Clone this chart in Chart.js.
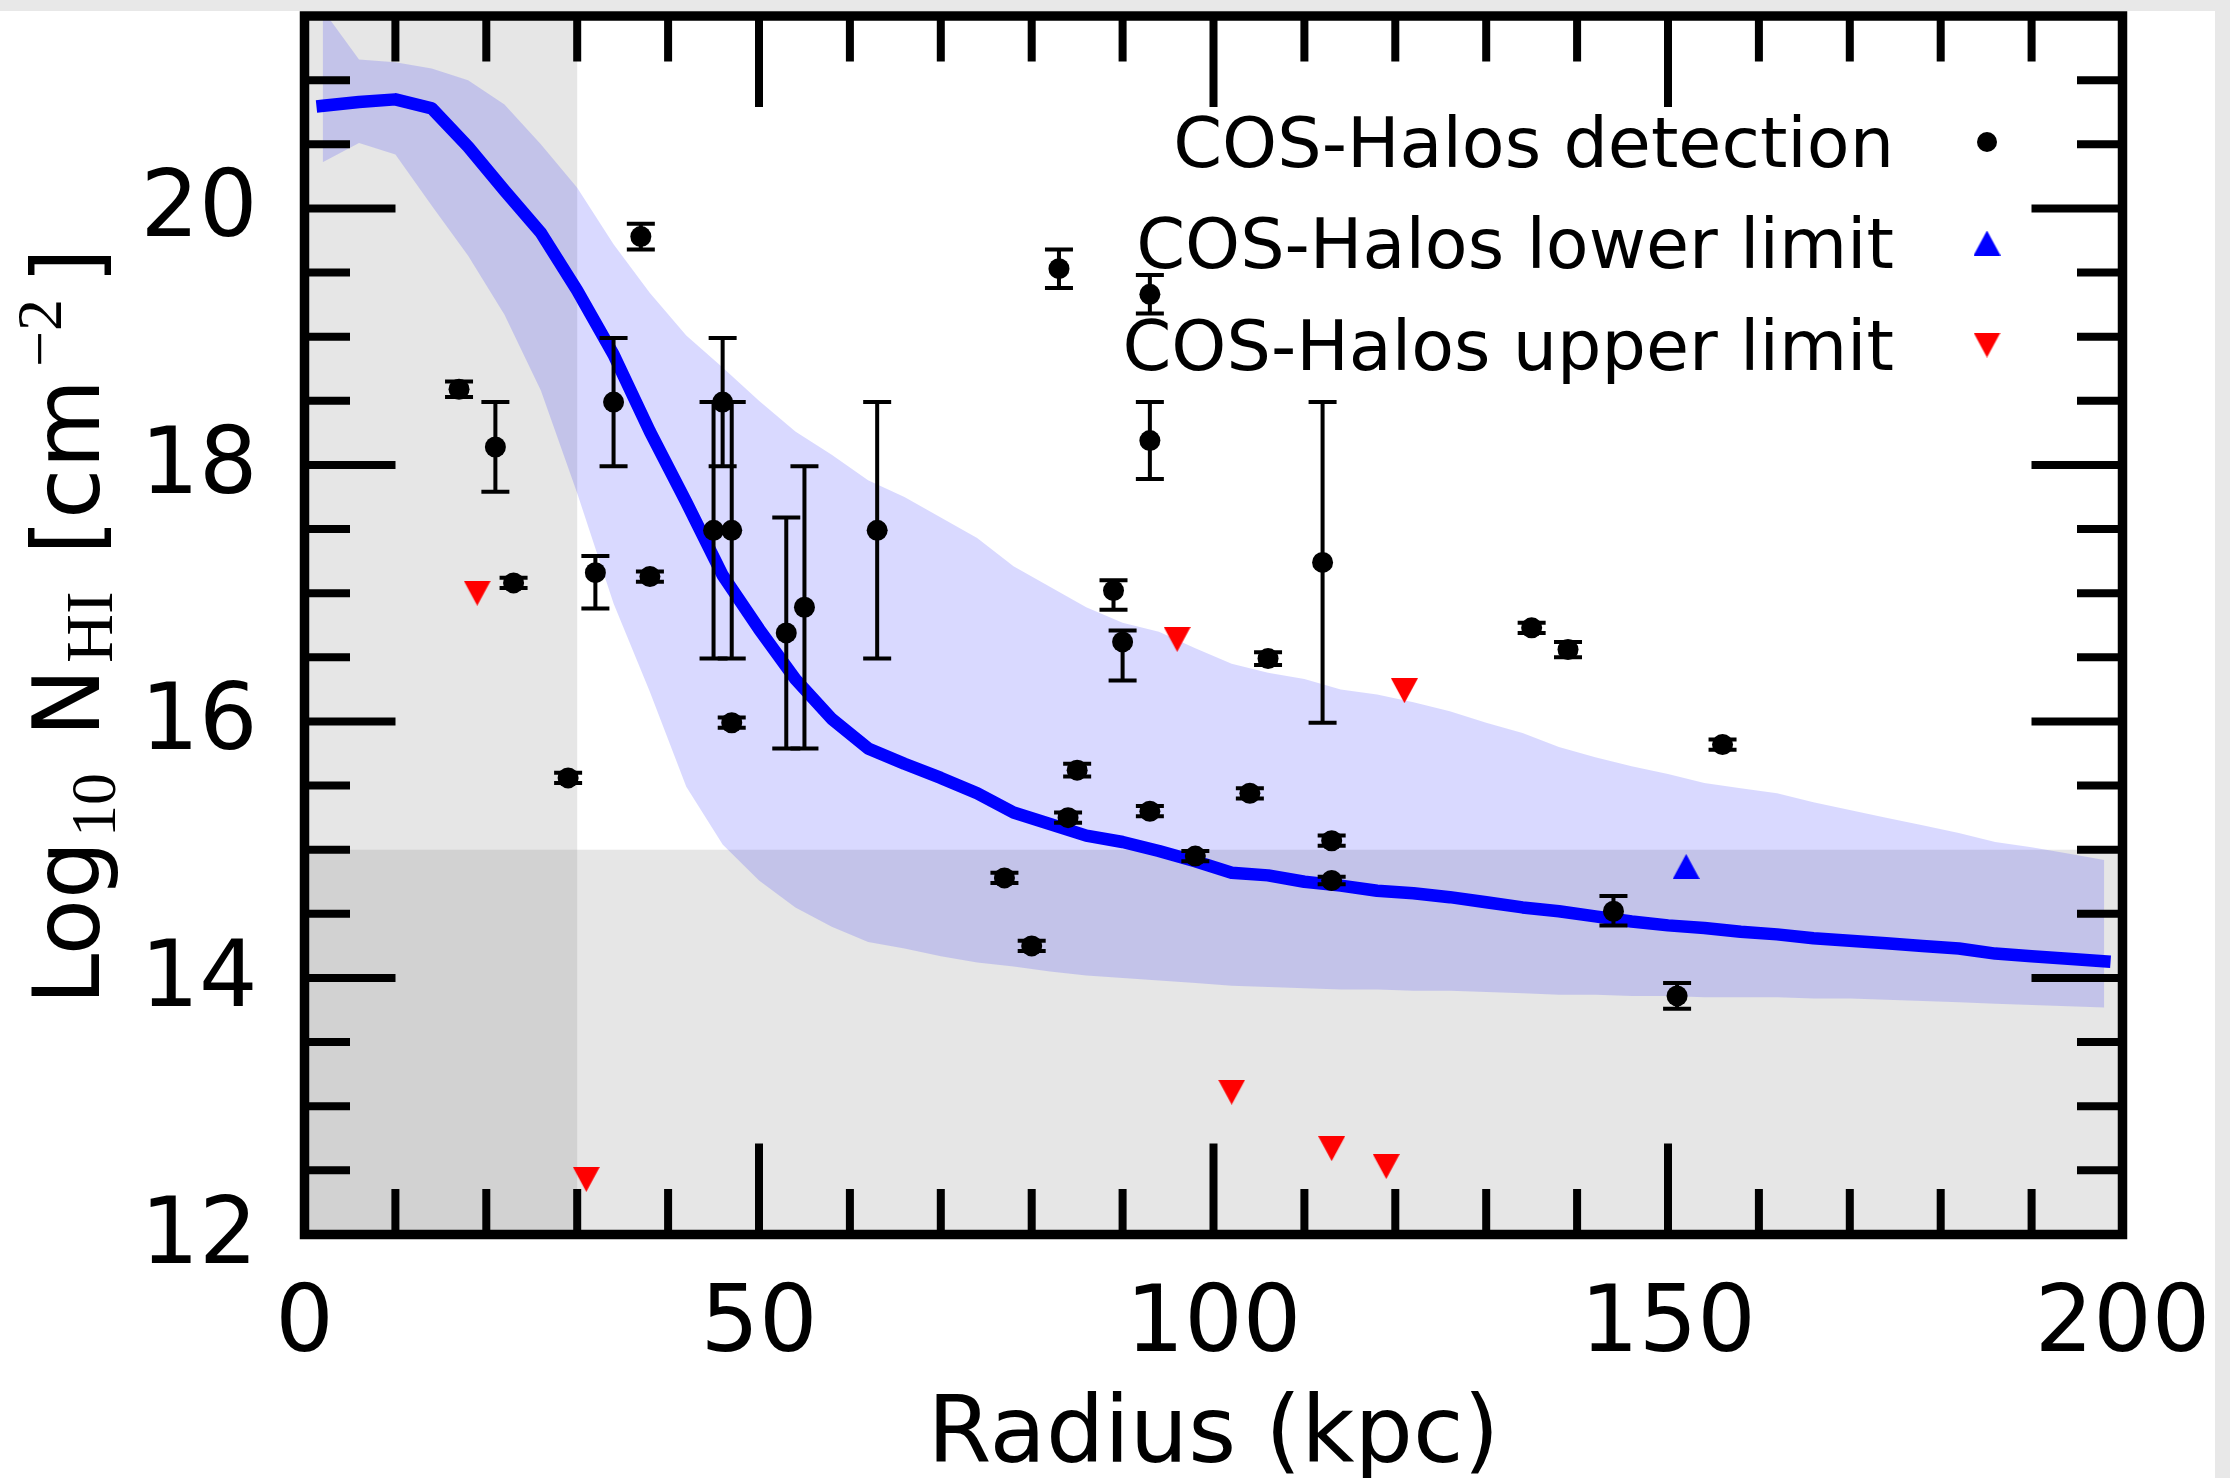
<!DOCTYPE html>
<html>
<head>
<meta charset="utf-8">
<title>H I column density profile</title>
<script src="https://cdn.jsdelivr.net/npm/chart.js@4.4.1/dist/chart.umd.min.js"></script>
<style>
  html, body { margin: 0; padding: 0; background: #e8e8e8; overflow: hidden; }
  #wrap { position: absolute; left: 0; top: 0; width: 2230px; height: 1478px; }
  canvas { display: block; }
</style>
</head>
<body>
<div id="wrap"><canvas id="chart" width="2230" height="1478"></canvas></div>
<script>
// ---- Model profile, sampled on 4 kpc radial bins ----
const radiusBins = [2, 6, 10, 14, 18, 22, 26, 30, 34, 38,
                    42, 46, 50, 54, 58, 62, 66, 70, 74, 78,
                    82, 86, 90, 94, 98, 102, 106, 110, 114, 118,
                    122, 126, 130, 134, 138, 142, 146, 150, 154, 158,
                    162, 166, 170, 174, 178, 182, 186, 190, 194, 198];
const medianLogN = [20.80, 20.83, 20.85, 20.78, 20.48, 20.14, 19.81, 19.36, 18.86, 18.26,
                    17.71, 17.14, 16.72, 16.33, 16.02, 15.79, 15.67, 15.56, 15.44, 15.29,
                    15.20, 15.11, 15.06, 14.99, 14.91, 14.82, 14.80, 14.75, 14.72, 14.68,
                    14.66, 14.63, 14.59, 14.55, 14.52, 14.48, 14.44, 14.41, 14.39, 14.36,
                    14.34, 14.31, 14.29, 14.27, 14.25, 14.23, 14.19, 14.17, 14.15, 14.13];
const upperLogN  = [21.55, 21.16, 21.14, 21.09, 21.00, 20.81, 20.50, 20.16, 19.72, 19.34,
                    19.01, 18.76, 18.50, 18.26, 18.08, 17.88, 17.75, 17.59, 17.43, 17.21,
                    17.05, 16.89, 16.77, 16.70, 16.57, 16.45, 16.38, 16.33, 16.25, 16.21,
                    16.15, 16.08, 15.99, 15.91, 15.80, 15.72, 15.65, 15.59, 15.52, 15.48,
                    15.44, 15.37, 15.31, 15.25, 15.19, 15.13, 15.06, 15.02, 14.97, 14.92];
const lowerLogN  = [20.36, 20.51, 20.42, 20.02, 19.63, 19.17, 18.58, 17.78, 16.92, 16.23,
                    15.49, 15.04, 14.76, 14.55, 14.40, 14.28, 14.23, 14.17, 14.12, 14.09,
                    14.05, 14.02, 14.00, 13.98, 13.96, 13.94, 13.93, 13.92, 13.91, 13.91,
                    13.90, 13.90, 13.89, 13.88, 13.87, 13.87, 13.86, 13.86, 13.85, 13.85,
                    13.85, 13.84, 13.84, 13.83, 13.82, 13.81, 13.80, 13.79, 13.78, 13.77];

// ---- COS-Halos detections (with asymmetric errors) ----
const detRadius  = [17, 21, 23, 29, 32, 34, 37, 38, 45, 46, 47, 47,
                    53, 55, 63, 77, 80, 83, 84, 85, 89, 90, 93, 93,
                    93, 98, 104, 106, 112, 113, 113, 135, 139, 144, 151, 156];
const detLogN    = [18.59, 18.14, 17.08, 15.56, 17.16, 18.49, 19.78, 17.13, 17.49, 18.49, 17.49, 15.99,
                    16.69, 16.89, 17.49, 14.78, 14.25, 19.53, 15.25, 15.62, 17.02, 16.62, 19.33, 18.19,
                    15.30, 14.95, 15.44, 16.49, 17.24, 15.07, 14.76, 16.73, 16.56, 14.52, 13.86, 15.82];
const detErrLow  = [0.06, 0.35, 0.04, 0.04, 0.28, 0.50, 0.10, 0.04, 1.00, 0.50, 1.00, 0.04,
                    0.90, 1.10, 1.00, 0.04, 0.04, 0.15, 0.04, 0.05, 0.15, 0.30, 0.15, 0.30,
                    0.04, 0.04, 0.04, 0.05, 1.25, 0.04, 0.03, 0.04, 0.06, 0.11, 0.10, 0.04];
const detErrHigh = [0.06, 0.35, 0.04, 0.04, 0.13, 0.50, 0.10, 0.04, 1.00, 0.50, 1.00, 0.04,
                    0.90, 1.10, 1.00, 0.04, 0.04, 0.15, 0.04, 0.05, 0.08, 0.09, 0.15, 0.30,
                    0.04, 0.04, 0.04, 0.05, 1.25, 0.04, 0.03, 0.04, 0.06, 0.12, 0.10, 0.04];

// ---- COS-Halos limits ----
const upperLimRadius = [19, 31, 96, 102, 113, 119, 121];
const upperLimLogN   = [17.00, 12.43, 16.64, 13.11, 12.67, 12.53, 16.24];
const lowerLimRadius = [152];
const lowerLimLogN   = [14.87];

// ---- Axes ----
const xRange = [0, 200];
const yRange = [12, 21.5];
const xMajorTicks = [0, 50, 100, 150, 200];
const xMinorTicks = [10, 20, 30, 40, 60, 70, 80, 90, 110, 120, 130, 140, 160, 170, 180, 190];
const yMajorTicks = [12, 14, 16, 18, 20];
const yMinorTicks = [12.5, 13, 13.5, 14.5, 15, 15.5, 16.5, 17, 17.5, 18.5, 19, 19.5, 20.5, 21];
const xTickLabels = ['0', '50', '100', '150', '200'];
const yTickLabels = ['12', '14', '16', '18', '20'];
const xTitle = 'Radius (kpc)';
const legendLabels = ['COS-Halos detection', 'COS-Halos lower limit', 'COS-Halos upper limit'];

// Shaded regions: inner radii and low column densities
const innerRadiusLimit = 30;
const lowColumnLimit = 15;

// ---------------------------------------------------------------
const SANS = '"DejaVu Sans", "Liberation Sans", sans-serif';
const SERIF = '"Liberation Serif", "DejaVu Serif", serif';

function triangleImage(color, pointDown) {
  const w = 27, h = 25;
  const c = document.createElement('canvas');
  c.width = w; c.height = h;
  const g = c.getContext('2d');
  g.fillStyle = color;
  g.beginPath();
  if (pointDown) { g.moveTo(0, 0); g.lineTo(w, 0); g.lineTo(w / 2, h); }
  else { g.moveTo(w / 2, 0); g.lineTo(w, h); g.lineTo(0, h); }
  g.closePath();
  g.fill();
  return c;
}
const redDown = triangleImage('#ff0000', true);
const blueUp = triangleImage('#0000ff', false);

const pts = (xs, ys) => xs.map((x, i) => ({ x: x, y: ys[i] }));

// Paper, shading, error bars, frame, ticks, labels and legend
const figurePlugin = {
  id: 'figure',
  beforeDraw(chart) {
    const ctx = chart.ctx;
    ctx.save();
    ctx.fillStyle = '#ffffff';
    ctx.fillRect(0, 11, 2215, 1467);
    ctx.restore();
  },
  beforeDatasetsDraw(chart) {
    const ctx = chart.ctx;
    const { left, right, top, bottom } = chart.chartArea;
    const xs = chart.scales.x, ys = chart.scales.y;
    ctx.save();
    ctx.fillStyle = 'rgba(128,128,128,0.2)';
    const xr = xs.getPixelForValue(innerRadiusLimit);
    ctx.fillRect(left, top, xr - left, bottom - top);
    const yl = ys.getPixelForValue(lowColumnLimit);
    ctx.fillRect(left, yl, right - left, bottom - yl);
    ctx.restore();
  },
  beforeDatasetDraw(chart, args) {
    const ds = chart.data.datasets[args.index];
    if (ds.id !== 'detections') return;
    const ctx = chart.ctx;
    const xs = chart.scales.x, ys = chart.scales.y;
    ctx.save();
    ctx.strokeStyle = '#000000';
    ctx.lineWidth = 4;
    ctx.lineCap = 'butt';
    const cap = 14;
    for (let i = 0; i < detRadius.length; i++) {
      const px = xs.getPixelForValue(detRadius[i]);
      const yTop = ys.getPixelForValue(detLogN[i] + detErrHigh[i]);
      const yBot = ys.getPixelForValue(detLogN[i] - detErrLow[i]);
      ctx.beginPath();
      ctx.moveTo(px, yTop); ctx.lineTo(px, yBot);
      ctx.moveTo(px - cap, yTop); ctx.lineTo(px + cap, yTop);
      ctx.moveTo(px - cap, yBot); ctx.lineTo(px + cap, yBot);
      ctx.stroke();
    }
    ctx.restore();
  },
  afterDraw(chart) {
    const ctx = chart.ctx;
    const { left, right, top, bottom } = chart.chartArea;
    const xs = chart.scales.x, ys = chart.scales.y;
    ctx.save();

    // ticks, pointing inward on all four sides
    ctx.strokeStyle = '#000000';
    ctx.lineCap = 'butt';
    ctx.lineWidth = 8;
    const major = 91, minor = 45.5;
    const xTick = (v, len) => {
      const p = xs.getPixelForValue(v);
      ctx.beginPath();
      ctx.moveTo(p, bottom); ctx.lineTo(p, bottom - len);
      ctx.moveTo(p, top); ctx.lineTo(p, top + len);
      ctx.stroke();
    };
    const yTick = (v, len) => {
      const p = ys.getPixelForValue(v);
      ctx.beginPath();
      ctx.moveTo(left, p); ctx.lineTo(left + len, p);
      ctx.moveTo(right, p); ctx.lineTo(right - len, p);
      ctx.stroke();
    };
    xMajorTicks.forEach(v => xTick(v, major));
    xMinorTicks.forEach(v => xTick(v, minor));
    yMajorTicks.forEach(v => yTick(v, major));
    yMinorTicks.forEach(v => yTick(v, minor));

    // frame
    ctx.lineWidth = 9.5;
    ctx.lineJoin = 'miter';
    ctx.strokeRect(left, top, right - left, bottom - top);

    // tick labels
    ctx.fillStyle = '#000000';
    ctx.font = '92px ' + SANS;
    ctx.textBaseline = 'alphabetic';
    ctx.textAlign = 'center';
    xMajorTicks.forEach((v, i) => ctx.fillText(xTickLabels[i], xs.getPixelForValue(v), bottom + 116));
    ctx.textAlign = 'right';
    yMajorTicks.forEach((v, i) => ctx.fillText(yTickLabels[i], left - 47, ys.getPixelForValue(v) + 28));

    // x title
    ctx.textAlign = 'center';
    ctx.fillText(xTitle, (left + right) / 2, 1462);

    // y title: Log10 N_HI [cm^-2], rotated, with sub/superscripts
    const yTitle = [
      { t: 'Log', f: '92px ' + SANS, u: 1005, b: 99 },
      { t: '10', f: '64px ' + SERIF, u: 837, b: 115 },
      { t: 'N', f: '92px ' + SANS, u: 737, b: 99 },
      { t: 'HI', f: '68px ' + SERIF, u: 663, b: 112 },
      { t: '[cm', f: '92px ' + SANS, u: 555, b: 99 },
      { t: '\u22122', f: '64px ' + SERIF, u: 367, b: 61 },
      { t: ']', f: '92px ' + SANS, u: 284, b: 99 }
    ];
    ctx.textAlign = 'left';
    yTitle.forEach(p => {
      ctx.save();
      ctx.translate(p.b, p.u);
      ctx.rotate(-Math.PI / 2);
      ctx.font = p.f;
      ctx.fillText(p.t, 0, 0);
      ctx.restore();
    });

    // legend
    ctx.font = '70px ' + SANS;
    ctx.textAlign = 'right';
    const rowY = [142, 243, 345];
    const textX = 1894, markX = 1987;
    legendLabels.forEach((t, i) => ctx.fillText(t, textX, rowY[i] + 25));
    ctx.beginPath();
    ctx.arc(markX, rowY[0], 10, 0, Math.PI * 2);
    ctx.fill();
    ctx.drawImage(blueUp, markX - blueUp.width / 2, rowY[1] - blueUp.height / 2);
    ctx.drawImage(redDown, markX - redDown.width / 2, rowY[2] - redDown.height / 2);

    ctx.restore();
  }
};

new Chart(document.getElementById('chart'), {
  type: 'line',
  data: {
    datasets: [
      {
        id: 'bandLow', label: 'model 16th percentile',
        data: pts(radiusBins, lowerLogN),
        borderColor: 'rgba(0,0,0,0)', borderWidth: 0, pointRadius: 0,
        fill: false, order: 6, clip: 0
      },
      {
        id: 'bandHigh', label: 'model 84th percentile',
        data: pts(radiusBins, upperLogN),
        borderColor: 'rgba(0,0,0,0)', borderWidth: 0, pointRadius: 0,
        backgroundColor: 'rgba(0,0,255,0.15)',
        fill: '-1', order: 5, clip: 0
      },
      {
        id: 'median', label: 'model median',
        data: pts(radiusBins, medianLogN),
        borderColor: '#0000ff', borderWidth: 12.5, pointRadius: 0,
        borderCapStyle: 'square', borderJoinStyle: 'round',
        fill: false, order: 4, clip: 0
      },
      {
        id: 'detections', label: legendLabels[0],
        data: pts(detRadius, detLogN),
        showLine: false, pointStyle: 'circle', pointRadius: 10.5,
        pointBackgroundColor: '#000000', pointBorderWidth: 0,
        order: 3, clip: false
      },
      {
        id: 'lowerLimits', label: legendLabels[1],
        data: pts(lowerLimRadius, lowerLimLogN),
        showLine: false, pointStyle: blueUp, pointRadius: 13,
        order: 2, clip: false
      },
      {
        id: 'upperLimits', label: legendLabels[2],
        data: pts(upperLimRadius, upperLimLogN),
        showLine: false, pointStyle: redDown, pointRadius: 13,
        order: 1, clip: false
      }
    ]
  },
  options: {
    responsive: false,
    devicePixelRatio: 1,
    animation: false,
    events: [],
    layout: { padding: { left: 304.5, right: 107.5, top: 16, bottom: 243.5 } },
    scales: {
      x: { type: 'linear', min: xRange[0], max: xRange[1], display: false },
      y: { type: 'linear', min: yRange[0], max: yRange[1], display: false }
    },
    plugins: {
      legend: { display: false },
      tooltip: { enabled: false },
      filler: { propagate: false }
    }
  },
  plugins: [figurePlugin]
});
</script>
</body>
</html>
